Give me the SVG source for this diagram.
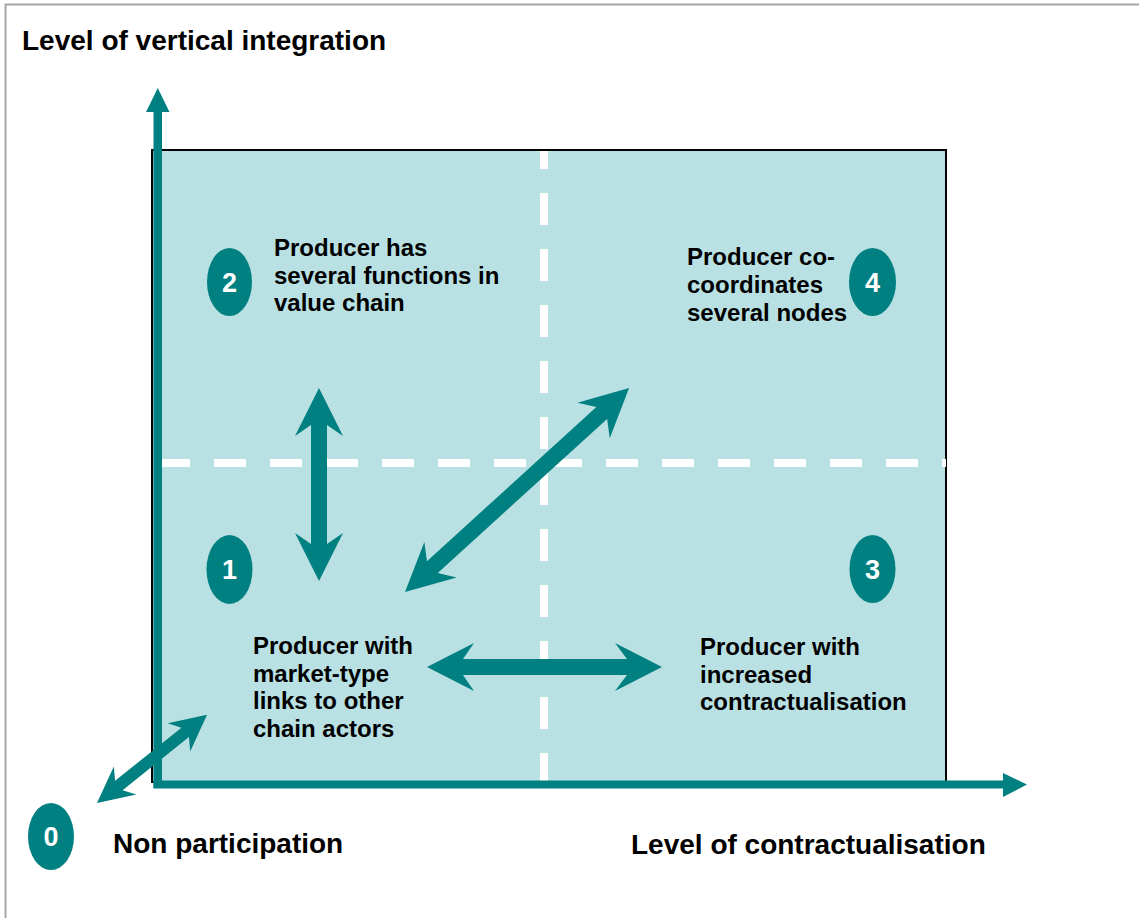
<svg xmlns="http://www.w3.org/2000/svg" width="1139" height="918" viewBox="0 0 1139 918">
<style>
.t{font-family:"Liberation Sans",Arial,sans-serif;font-weight:bold;fill:#000}
.lbl{font-size:24px}
.ax{font-size:28px}
.num{font-family:"Liberation Sans",Arial,sans-serif;font-weight:bold;font-size:27px;fill:#fff;text-anchor:middle}
.badge{fill:#008080}
.arr{fill:#008080}
.dash{stroke:#fff;stroke-width:8;stroke-dasharray:32 24;fill:none}
</style>
<rect x="5.5" y="4.5" width="1150" height="930" fill="#fff" stroke="#a6a6a6" stroke-width="2"/>
<g id="matrix">
<rect x="152" y="150" width="794" height="632" fill="#B9E0E3" stroke="#000" stroke-width="2"/>
<line class="dash" x1="544" y1="151" x2="544" y2="781" stroke-dashoffset="14"/>
<line class="dash" x1="158" y1="463" x2="946" y2="463"/>
</g>
<g id="axes">
<rect x="153.5" y="110" width="8.5" height="678" fill="#008080"/>
<polygon points="157.75,88 169.5,112 146,112" fill="#008080"/>
<rect x="153.5" y="780.5" width="851" height="8" fill="#008080"/>
<polygon points="1027,784.5 1003,773 1003,797" fill="#008080"/>
</g>
<g id="connectors">
<polygon class="arr" points="319,388 343,436 327,425 327,544 343,533 319,581 295,533 311,544 311,425 295,436"/>
<polygon class="arr" points="427,667 474,643 463,659 627,659 615,643 662,667 615,691 627,675 463,675 474,691"/>
<polygon class="arr" transform="translate(405,592) rotate(-42.3)" points="0,0 48,-24 37,-8 266,-8 255,-24 303,0 255,24 266,8 37,8 48,24"/>
<polygon class="arr" transform="translate(97,803) rotate(-38.7)" points="0,0 36,-18 28,-6 113,-6 105,-18 141,0 105,18 113,6 28,6 36,18"/>
</g>
<g id="title-y"><text class="t ax" x="22" y="50">Level of vertical integration</text></g>
<g id="title-x"><text class="t ax" x="631" y="854">Level of contractualisation</text></g>
<g id="node0">
<ellipse class="badge" cx="51" cy="836.5" rx="23" ry="33.5"/>
<text class="num" x="51" y="846">0</text>
<text class="t ax" x="113" y="853">Non participation</text>
</g>
<g id="node1">
<ellipse class="badge" cx="229.5" cy="569.5" rx="23" ry="34.5"/>
<text class="num" x="229.5" y="579">1</text>
<text class="t lbl" x="253" y="654">Producer with</text>
<text class="t lbl" x="253" y="682">market-type</text>
<text class="t lbl" x="253" y="709">links to other</text>
<text class="t lbl" x="253" y="737">chain actors</text>
</g>
<g id="node2">
<ellipse class="badge" cx="229.5" cy="282" rx="22.5" ry="34"/>
<text class="num" x="229.5" y="291.5">2</text>
<text class="t lbl" x="274" y="256">Producer has</text>
<text class="t lbl" x="274" y="284">several functions in</text>
<text class="t lbl" x="274" y="311">value chain</text>
</g>
<g id="node3">
<ellipse class="badge" cx="872.5" cy="569" rx="23" ry="34"/>
<text class="num" x="872.5" y="578.5">3</text>
<text class="t lbl" x="700" y="655">Producer with</text>
<text class="t lbl" x="700" y="683">increased</text>
<text class="t lbl" x="700" y="710">contractualisation</text>
</g>
<g id="node4">
<ellipse class="badge" cx="872.5" cy="282" rx="23.5" ry="34"/>
<text class="num" x="872.5" y="291.5">4</text>
<text class="t lbl" x="687" y="265">Producer co-</text>
<text class="t lbl" x="687" y="293">coordinates</text>
<text class="t lbl" x="687" y="321">several nodes</text>
</g>
</svg>
